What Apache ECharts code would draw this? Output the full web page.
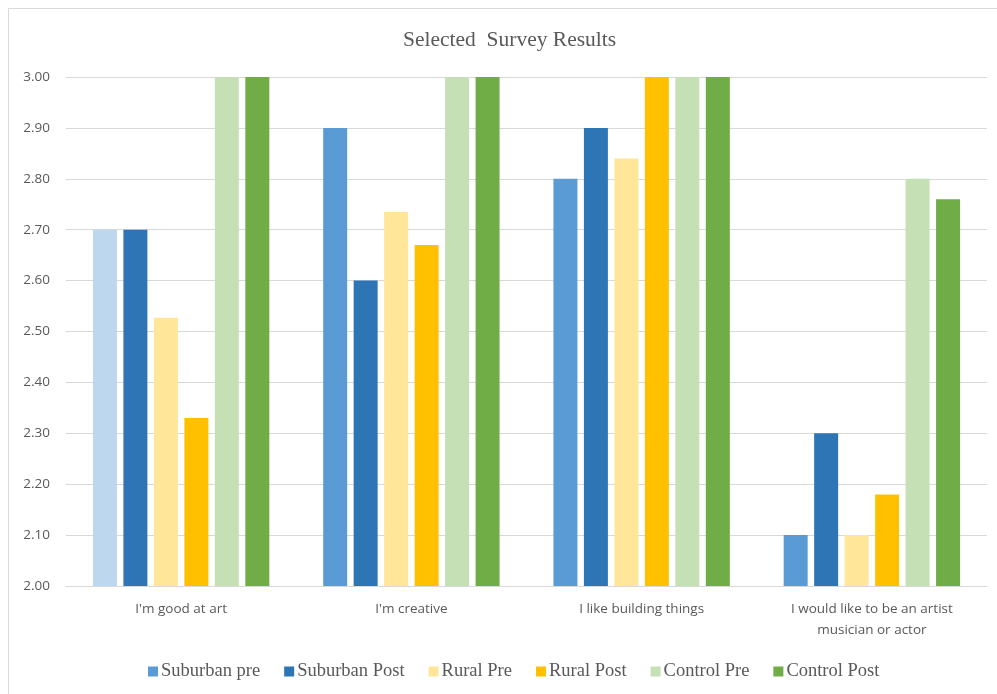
<!DOCTYPE html>
<html>
<head>
<meta charset="utf-8">
<script src="https://cdn.jsdelivr.net/npm/echarts@6/dist/echarts.min.js"></script>
<style>html,body{margin:0;padding:0;background:#fff;}#c{width:997px;height:694px;}</style>
</head>
<body>
<div id="c"></div>
<script>
const categories = ["I'm good at art", "I'm creative", "I like building things", "I would like to be an artist\nmusician or actor"];
const seriesNames = ["Suburban pre", "Suburban Post", "Rural Pre", "Rural Post", "Control Pre", "Control Post"];
const suburbanPre = [2.70, 2.90, 2.80, 2.10];
const suburbanPost = [2.70, 2.60, 2.90, 2.30];
const ruralPre = [2.527, 2.735, 2.84, 2.10];
const ruralPost = [2.33, 2.67, 3.00, 2.18];
const controlPre = [3.00, 3.00, 3.00, 2.80];
const controlPost = [3.00, 3.00, 3.00, 2.76];
const yTicks = [2.0, 3.0, 0.1];

const colors = ['#5B9BD5', '#2E75B6', '#FFE699', '#FFC000', '#C5E0B4', '#70AD47'];
const allData = [suburbanPre, suburbanPost, ruralPre, ruralPost, controlPre, controlPost];

const chart = echarts.init(document.getElementById('c'));
const series = allData.map((d, i) => ({
  name: seriesNames[i],
  type: 'bar',
  barWidth: 24,
  barGap: '27%',
  data: d.map((v, j) => (i === 0 && j === 0) ? { value: v, itemStyle: { color: '#BDD7EE' } } : v),
  itemStyle: { color: colors[i] }
}));
chart.setOption({
  animation: false,
  color: colors,
  graphic: [{
    type: 'rect', shape: { x: 8.5, y: 8.5, width: 1000, height: 700 },
    style: { fill: 'none', stroke: '#d9d9d9', lineWidth: 1 }, silent: true, z: -1
  }],
  title: {
    text: 'Selected  Survey Results', left: 398, top: 24,
    textStyle: { fontFamily: 'Liberation Serif', fontWeight: 'normal', fontSize: 21.5, color: '#595959' }
  },
  legend: {
    data: seriesNames, top: 657, left: 143, itemWidth: 10, itemHeight: 10, itemGap: 24,
    icon: 'rect',
    textStyle: { fontFamily: 'Liberation Serif', fontSize: 18.5, color: '#595959', padding: [0, 0, 0, -2] }
  },
  grid: { left: 66, right: 10, top: 77, bottom: 108, containLabel: false },
  xAxis: {
    type: 'category', data: categories,
    axisLine: { lineStyle: { color: '#d9d9d9' } },
    axisTick: { show: false },
    axisLabel: { fontFamily: 'Open Sans', fontSize: 13.5, color: '#595959', margin: 13, lineHeight: 21, interval: 0 }
  },
  yAxis: {
    type: 'value', min: yTicks[0], max: yTicks[1], interval: yTicks[2],
    axisLine: { show: false }, axisTick: { show: false },
    splitLine: { lineStyle: { color: '#d9d9d9' } },
    axisLabel: { fontFamily: 'Open Sans', fontSize: 13.5, color: '#595959', margin: 16, formatter: v => v.toFixed(2) }
  },
  series: series
});
</script>
</body>
</html>
